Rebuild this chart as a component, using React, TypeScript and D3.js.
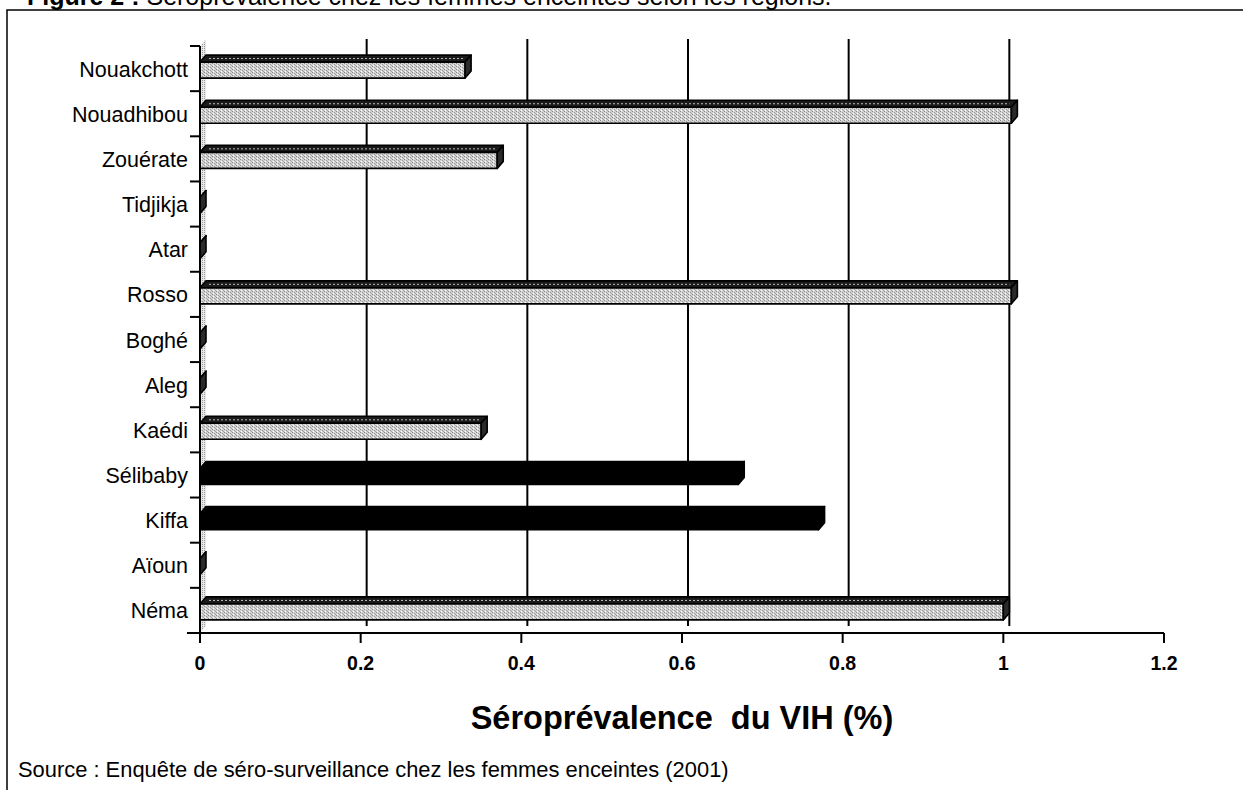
import * as d3 from 'd3';

const regions = ['Nouakchott', 'Nouadhibou', 'Zouérate', 'Tidjikja', 'Atar', 'Rosso', 'Boghé', 'Aleg', 'Kaédi', 'Sélibaby', 'Kiffa', 'Aïoun', 'Néma'];
const prevalence = [0.33, 1.01, 0.37, 0, 0, 1.01, 0, 0, 0.35, 0.67, 0.77, 0, 1.0];
const darkBars = ['Sélibaby', 'Kiffa'];
const xTicks = [0, 0.2, 0.4, 0.6, 0.8, 1, 1.2];
const gridValues = [0.2, 0.4, 0.6, 0.8, 1];

const W = 1243;
const H = 790;
const DX = 6;
const DY = 7;
const font = 'Arial, "Liberation Sans", Helvetica, sans-serif';

export default function App() {
  const x = d3.scaleLinear().domain([0, 1.2]).range([200, 1164]);
  const y = d3.scaleBand<string>().domain(regions).range([46, 633]);
  const step = y.step();
  const x0 = x(0);
  const yBottom = 633;
  const yTop = 46;

  return (
    <div style={{ position: 'absolute', left: 0, top: 0 }}>
      <svg width={W} height={H} style={{ display: 'block', background: '#fff' }}>
        <defs>
          <pattern id="stip" width="4" height="3" patternUnits="userSpaceOnUse">
            <rect width="4" height="3" fill="#d4d4d4" />
            <rect x="0" y="0" width="1" height="1" fill="#8a8a8a" />
            <rect x="2" y="1" width="1" height="1" fill="#9a9a9a" />
            <rect x="1" y="2" width="1" height="1" fill="#ffffff" />
            <rect x="3" y="2" width="1" height="1" fill="#a0a0a0" />
          </pattern>
          <pattern id="wall" width="2" height="2" patternUnits="userSpaceOnUse">
            <rect width="2" height="2" fill="#e8e8e8" />
            <rect x="0" y="0" width="1" height="1" fill="#9a9a9a" />
          </pattern>
        </defs>

        {/* heading, cut off at the top of the page as in the scan */}
        <text x={27} y={5} fontFamily={font} fontSize={25} fill="#000">
          <tspan fontWeight="bold">Figure 2 :</tspan>
          <tspan> Séroprévalence chez les femmes enceintes selon les régions.</tspan>
        </text>

        {/* frame */}
        <path d={`M7,${H} V10 H${W}`} fill="none" stroke="#000" strokeWidth={1.5} />

        {/* left wall */}
        <path
          d={`M${x0},${yBottom} L${x0},${yTop} L${x0 + DX},${yTop - DY} L${x0 + DX},${yBottom - DY} Z`}
          fill="url(#wall)"
        />

        {/* back gridlines */}
        {gridValues.map((v) => (
          <line
            key={v}
            x1={x(v) + DX}
            x2={x(v) + DX}
            y1={yTop - DY}
            y2={yBottom - DY}
            stroke="#000"
            strokeWidth={2}
          />
        ))}

        {/* bars */}
        {regions.map((r, i) => {
          const c = (y(r) ?? 0) + step / 2;
          const top = c - 6.5;
          const bot = c + 9.5;
          const xe = x(prevalence[i]);
          const dark = darkBars.includes(r);
          return (
            <g key={r} stroke="#000" strokeWidth={1.6} strokeLinejoin="round">
              <path
                d={`M${x0},${top} L${x0 + DX},${top - DY} L${xe + DX},${top - DY} L${xe},${top} Z`}
                fill={dark ? '#000' : '#1a1a1a'}
              />
              {!dark && xe - x0 > 4 && (
                <line
                  x1={x0 + DX + 3}
                  x2={xe - 2}
                  y1={top - DY / 2}
                  y2={top - DY / 2}
                  stroke="#bdbdbd"
                  strokeWidth={1}
                  strokeDasharray="2 2"
                />
              )}
              <rect
                x={x0}
                y={top}
                width={Math.max(0, xe - x0)}
                height={bot - top}
                fill={dark ? '#000' : 'url(#stip)'}
              />
              <path
                d={`M${xe},${top} L${xe + DX},${top - DY} L${xe + DX},${bot - DY} L${xe},${bot} Z`}
                fill={dark ? '#000' : '#2a2a2a'}
              />
            </g>
          );
        })}

        {/* y axis */}
        <line x1={x0} x2={x0} y1={yTop} y2={yBottom} stroke="#000" strokeWidth={2} />
        {d3.range(regions.length + 1).map((k) => {
          const yy = yTop + k * step;
          return <line key={k} x1={x0 - 10} x2={x0} y1={yy} y2={yy} stroke="#000" strokeWidth={2} />;
        })}
        {regions.map((r) => (
          <text
            key={r}
            x={188}
            y={(y(r) ?? 0) + step / 2 + 8}
            textAnchor="end"
            fontFamily={font}
            fontSize={21.5}
            fill="#000"
          >
            {r}
          </text>
        ))}

        {/* x axis */}
        <line x1={187} x2={x(1.2)} y1={yBottom} y2={yBottom} stroke="#000" strokeWidth={2} />
        {xTicks.map((t) => (
          <g key={t}>
            <line x1={x(t)} x2={x(t)} y1={yBottom} y2={yBottom + 10} stroke="#000" strokeWidth={2} />
            <text
              x={x(t)}
              y={yBottom + 37}
              textAnchor="middle"
              fontFamily={font}
              fontSize={19.5}
              fontWeight="bold"
              fill="#000"
            >
              {t}
            </text>
          </g>
        ))}

        <text
          x={682}
          y={729}
          textAnchor="middle"
          fontFamily={font}
          fontSize={32.5}
          fontWeight="bold"
          fill="#000"
          style={{ whiteSpace: 'pre' }}
        >
          {'Séroprévalence  du VIH (%)'}
        </text>

        <text x={18} y={777} fontFamily={font} fontSize={21.9} fill="#000">
          Source : Enquête de séro-surveillance chez les femmes enceintes (2001)
        </text>
      </svg>
    </div>
  );
}
